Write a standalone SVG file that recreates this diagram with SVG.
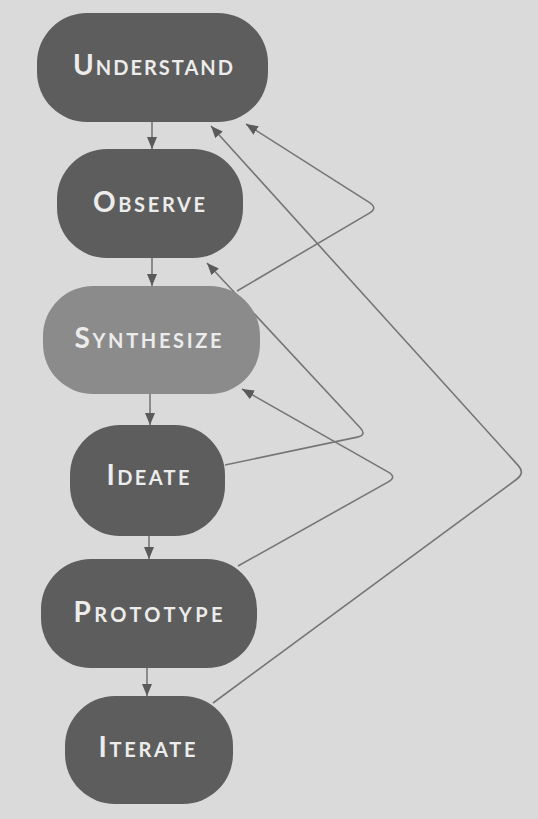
<svg xmlns="http://www.w3.org/2000/svg" width="538" height="819" viewBox="0 0 538 819">
  <style>
    .node { fill: #5d5d5d; }
    .light { fill: #8b8b8b; }
    .label { font-family: Lato, "Open Sans", "Liberation Sans", sans-serif; font-weight: 700; font-size: 28px; font-variant: small-caps; fill: #ececec; text-anchor: middle; }
    .edge { fill: none; stroke: #767676; stroke-width: 1.6; }
  </style>
  <defs>
    <marker id="arrow" viewBox="0 0 12 10" refX="12" refY="5" markerWidth="12" markerHeight="10" markerUnits="userSpaceOnUse" orient="auto">
      <path d="M0,0 L12,5 L0,10 Z" fill="#5a5a5a"/>
    </marker>
  </defs>
  <rect x="0" y="0" width="538" height="819" fill="#dadada"/>

  <g id="connectors">
    <line class="edge" x1="152" y1="122" x2="152" y2="149" marker-end="url(#arrow)"/>
    <line class="edge" x1="152" y1="258" x2="152" y2="286" marker-end="url(#arrow)"/>
    <line class="edge" x1="150" y1="394" x2="150" y2="425" marker-end="url(#arrow)"/>
    <line class="edge" x1="149" y1="536" x2="149" y2="559" marker-end="url(#arrow)"/>
    <line class="edge" x1="147" y1="668" x2="147" y2="696" marker-end="url(#arrow)"/>
    <path class="edge" d="M213,703 L517,479 Q525,473 518.3,465.6 L211,126" marker-end="url(#arrow)"/>
    <path class="edge" d="M237,291 L369.4,213.1 Q378,208 369.6,202.6 L246,124" marker-end="url(#arrow)"/>
    <path class="edge" d="M225,465 L357.2,437.1 Q367,435 360.2,427.7 L207,263" marker-end="url(#arrow)"/>
    <path class="edge" d="M238,566 L388.3,481.9 Q397,477 388.3,472.1 L242,389" marker-end="url(#arrow)"/>
  </g>

  <g id="understand">
    <rect class="node" x="37" y="13" width="231" height="109" rx="50"/>
    <text class="label" x="153" y="75" textLength="160" lengthAdjust="spacing">Understand</text>
  </g>
  <g id="observe">
    <rect class="node" x="57" y="149" width="186" height="109" rx="50"/>
    <text class="label" x="149" y="212" textLength="112" lengthAdjust="spacing">Observe</text>
  </g>
  <g id="synthesize">
    <rect class="node light" x="43" y="286" width="217" height="108" rx="50"/>
    <text class="label" x="148" y="348" textLength="147" lengthAdjust="spacing">Synthesize</text>
  </g>
  <g id="ideate">
    <rect class="node" x="70" y="425" width="155" height="111" rx="50"/>
    <text class="label" x="148" y="485" textLength="83" lengthAdjust="spacing">Ideate</text>
  </g>
  <g id="prototype">
    <rect class="node" x="41" y="559" width="216" height="109" rx="50"/>
    <text class="label" x="148" y="622" textLength="149" lengthAdjust="spacing">Prototype</text>
  </g>
  <g id="iterate">
    <rect class="node" x="65" y="696" width="168" height="108" rx="50"/>
    <text class="label" x="147" y="757" textLength="97" lengthAdjust="spacing">Iterate</text>
  </g>
</svg>
